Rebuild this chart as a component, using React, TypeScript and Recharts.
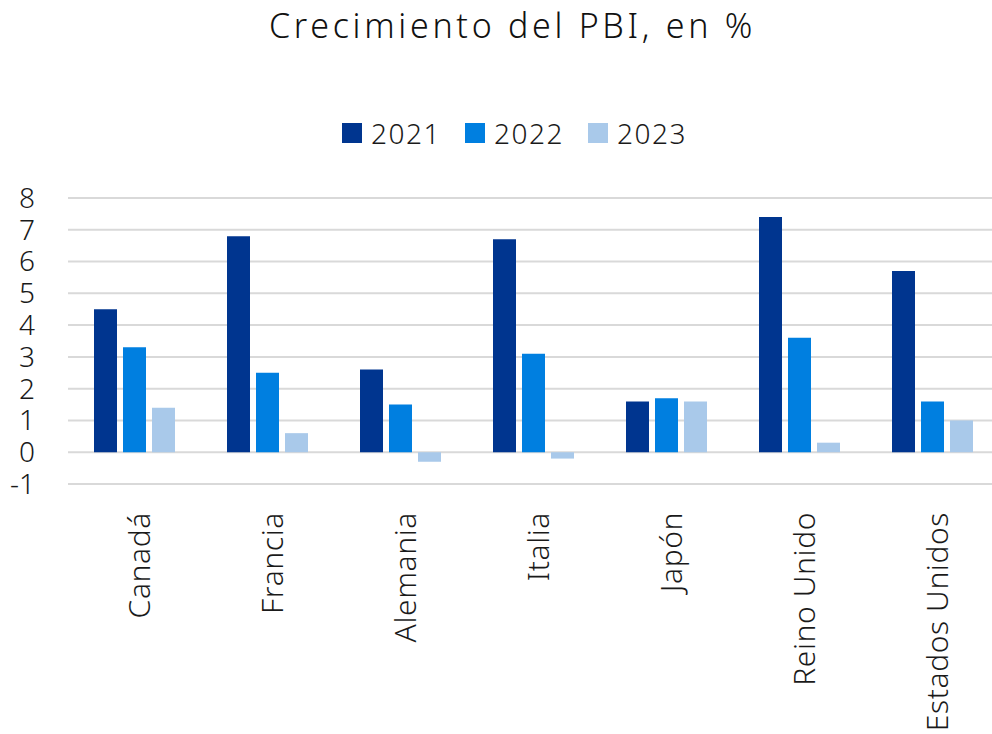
import React from "react";
import { BarChart, Bar, XAxis, YAxis, CartesianGrid } from "recharts";

const countries = ["Canadá", "Francia", "Alemania", "Italia", "Japón", "Reino Unido", "Estados Unidos"];
const s2021 = [4.5, 6.8, 2.6, 6.7, 1.6, 7.4, 5.7];
const s2022 = [3.3, 2.5, 1.5, 3.1, 1.7, 3.6, 1.6];
const s2023 = [1.4, 0.6, -0.3, -0.2, 1.6, 0.3, 1.0];
const yTicks = [-1, 0, 1, 2, 3, 4, 5, 6, 7, 8];
const seriesNames = ["2021", "2022", "2023"];
const colors = ["#00358F", "#007FE0", "#A9C9EA"];
const title = "Crecimiento del PBI, en %";

const data = countries.map((c, i) => ({ name: c, y2021: s2021[i], y2022: s2022[i], y2023: s2023[i] }));

const FONT = "'Noto Sans', sans-serif";

const XTick = (props: any) => {
  const { x, y, payload } = props;
  return (
    <text
      x={x}
      y={y}
      transform={`rotate(-90 ${x} ${y})`}
      dy={15}
      textAnchor="end"
      fontSize={30}
      fontWeight={300}
      letterSpacing={0.6}
      fontFamily={FONT}
      fill="#1a1a1a"
    >
      {payload.value}
    </text>
  );
};

export default function App() {
  return (
    <div style={{ position: "absolute", left: 0, top: 0, width: 992, height: 734, background: "#fff", overflow: "hidden" }}>
      <div
        style={{
          position: "absolute",
          top: 2,
          left: 0,
          width: 1025,
          textAlign: "center",
          fontFamily: FONT,
          fontSize: 34,
          fontWeight: 300,
          letterSpacing: 3.7,
          color: "#111",
        }}
      >
        {title}
      </div>
      <div
        style={{
          position: "absolute",
          top: 114,
          left: 342,
          display: "flex",
          fontFamily: FONT,
          fontSize: 28,
          fontWeight: 300,
          letterSpacing: 1.5,
          color: "#1a1a1a",
        }}
      >
        {seriesNames.map((n, i) => (
          <div key={n} style={{ display: "flex", alignItems: "center", width: i < 2 ? 123 : 100 }}>
            <div style={{ width: 20, height: 20, background: colors[i], marginRight: 9 }} />
            <span>{n}</span>
          </div>
        ))}
      </div>
      <BarChart
        width={992}
        height={734}
        data={data}
        margin={{ top: 198, right: -7, left: 8, bottom: 0 }}
        barCategoryGap={26}
        barGap={6}
        style={{ position: "absolute", left: 0, top: 0 }}
      >
        <CartesianGrid horizontal vertical={false} stroke="#d9d9d9" strokeWidth={2} />
        <YAxis
          width={60}
          domain={[-1, 8]}
          ticks={yTicks}
          interval={0}
          axisLine={false}
          tickLine={false}
          tickSize={0}
          tickMargin={33}
          tick={{ fontSize: 28, fontWeight: 300, fontFamily: FONT, fill: "#1a1a1a" }}
        />
        <XAxis
          dataKey="name"
          height={250}
          axisLine={false}
          tickLine={false}
          tickSize={0}
          tickMargin={28}
          interval={0}
          tick={<XTick />}
        />
        <Bar dataKey="y2021" fill={colors[0]} isAnimationActive={false} />
        <Bar dataKey="y2022" fill={colors[1]} isAnimationActive={false} />
        <Bar dataKey="y2023" fill={colors[2]} isAnimationActive={false} />
      </BarChart>
    </div>
  );
}
